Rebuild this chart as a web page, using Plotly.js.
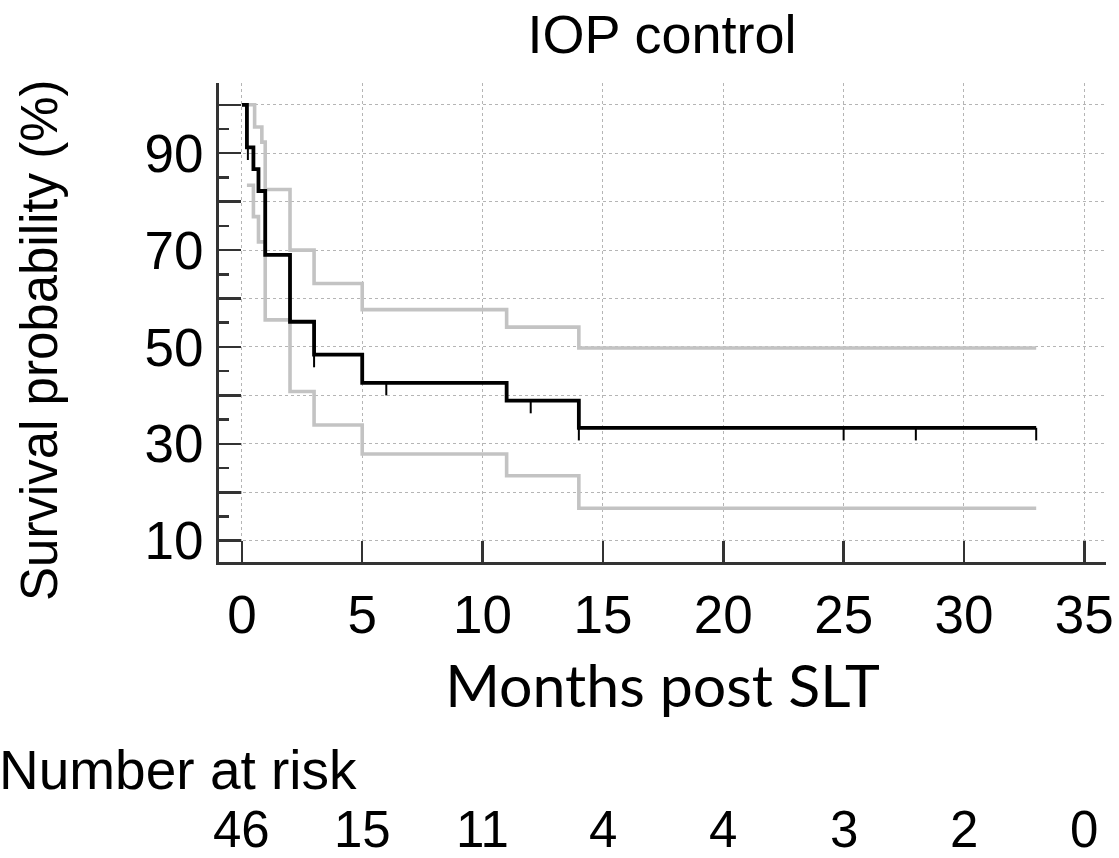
<!DOCTYPE html>
<html>
<head>
<meta charset="utf-8">
<script src="https://cdn.plot.ly/plotly-3.0.1.min.js"></script>
<style>html,body{margin:0;padding:0;background:#fff;}#chart{width:1119px;height:858px;}</style>
</head>
<body>
<div id="chart"></div>
<script>
// Kaplan-Meier estimate (step function: value holds from time[i] to time[i+1])
const kmTimes = [0, 0.21, 0.48, 0.69, 0.97, 2, 3, 5, 11, 14, 33];
const kmSurv  = [100, 91.2, 86.7, 82.2, 69.0, 55.2, 48.4, 42.6, 38.9, 33.3, 33.3];

// 95% confidence band
const upperTimes = [0.21, 0.53, 0.83, 0.97, 2, 3, 5, 11, 14, 33];
const upperCI    = [100, 95.4, 92.3, 82.5, 70.0, 63.1, 57.7, 54.1, 49.8, 49.8];
const lowerTimes = [0.21, 0.48, 0.69, 0.97, 2, 3, 5, 11, 14, 33];
const lowerCI    = [83.4, 76.9, 71.7, 55.6, 40.8, 33.9, 27.9, 23.4, 16.7, 16.7];

// Censored observations (months)
const censorTimes = [0.25, 3, 6, 12, 14, 25, 28, 33];

// Number at risk table
const riskTimes  = [0, 5, 10, 15, 20, 25, 30, 35];
const riskCounts = [46, 15, 11, 4, 4, 3, 2, 0];

const xTicks = [0, 5, 10, 15, 20, 25, 30, 35];
const yTicks = [10, 20, 30, 40, 50, 60, 70, 80, 90, 100];
const yTickText = ['10', '', '30', '', '50', '', '70', '', '90', ''];

function survAt(t) {
  let v = kmSurv[0];
  for (let i = 0; i < kmTimes.length; i++) { if (kmTimes[i] <= t) v = kmSurv[i]; }
  return v;
}
const censorLen = 2.6; // tick length in % units
const cx = [], cy = [];
censorTimes.forEach(t => { const s = survAt(t); cx.push(t, t, null); cy.push(s, s - censorLen, null); });

const ciStyle = {color: '#c3c3c3', width: 3.6, shape: 'hv'};
const traces = [
  {x: upperTimes, y: upperCI, mode: 'lines', line: ciStyle, hoverinfo: 'skip', showlegend: false},
  {x: lowerTimes, y: lowerCI, mode: 'lines', line: ciStyle, hoverinfo: 'skip', showlegend: false},
  {x: kmTimes, y: kmSurv, mode: 'lines', line: {color: '#000', width: 3.8, shape: 'hv'}, showlegend: false},
  {x: cx, y: cy, mode: 'lines', line: {color: '#000', width: 2}, hoverinfo: 'skip', showlegend: false}
];

const W = 1119, H = 858, L = 219, R = 13, T = 83, B = 296;
const plotH = H - T - B, plotW = W - L - R;
const py = p => (H - B - p) / plotH; // pixel y -> paper y
const px = p => (p - L) / plotW;     // pixel x -> paper x
const FONT = 'Liberation Sans, Arial, sans-serif';

const annotations = [
  {text: 'Survival probability (%)', xref: 'paper', yref: 'paper', x: px(40), y: py(340), xanchor: 'center', yanchor: 'middle',
   textangle: -90, showarrow: false, font: {family: FONT, size: 51, color: '#000'}},
  {text: 'Number at risk', xref: 'paper', yref: 'paper', x: px(-3), y: py(770), xanchor: 'left', yanchor: 'middle',
   showarrow: false, font: {family: FONT, size: 55, color: '#000'}}
];
riskTimes.forEach((t, i) => annotations.push({
  text: String(riskCounts[i]), xref: 'x', yref: 'paper', x: t, y: py(829), xanchor: 'center', yanchor: 'middle',
  showarrow: false, font: {family: FONT, size: 51, color: '#000'}
}));

const layout = {
  width: W, height: H,
  margin: {l: L, r: R, t: T, b: B, pad: 0},
  paper_bgcolor: '#fff', plot_bgcolor: '#fff',
  title: {text: 'IOP control', xref: 'container', yref: 'container', x: 662 / W, xanchor: 'center', y: 1 - 34 / H, yanchor: 'middle',
          font: {family: FONT, size: 54, color: '#000'}},
  xaxis: {
    range: [-0.95, 35.9], tickmode: 'array', tickvals: xTicks, ticktext: xTicks.map(String),
    showline: true, linecolor: '#333', linewidth: 3, zeroline: false,
    ticks: 'inside', ticklen: 21, tickwidth: 2.5, tickcolor: '#333',
    showgrid: true, gridcolor: '#b5b5b5', griddash: 'dot', gridwidth: 1,
    tickfont: {family: FONT, size: 53, color: '#000'},
    ticklabelstandoff: 4,
    title: {text: 'Months post SLT', standoff: 24, font: {family: 'Lato, sans-serif', size: 59, color: '#000'}}
  },
  yaxis: {
    range: [5.6, 104.5], tickmode: 'array', tickvals: yTicks, ticktext: yTickText,
    showline: true, linecolor: '#333', linewidth: 3, zeroline: false,
    ticks: 'inside', ticklen: 22, tickwidth: 2.5, tickcolor: '#333',
    minor: {dtick: 5, tick0: 0, ticks: 'inside', ticklen: 10, tickwidth: 2.5, tickcolor: '#333', showgrid: false},
    showgrid: true, gridcolor: '#b5b5b5', griddash: 'dot', gridwidth: 1,
    tickfont: {family: FONT, size: 53, color: '#000'},
    ticklabelstandoff: 2
  },
  annotations: annotations,
  showlegend: false
};

Plotly.newPlot('chart', traces, layout, {displayModeBar: false, staticPlot: true});
</script>
</body>
</html>
